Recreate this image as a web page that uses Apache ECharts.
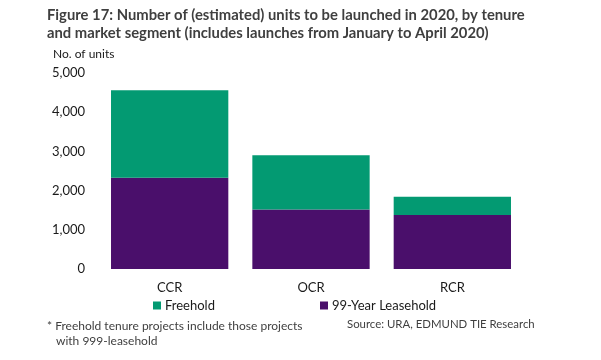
<!DOCTYPE html>
<html>
<head>
<meta charset="utf-8">
<script src="https://cdn.jsdelivr.net/npm/echarts@6/dist/echarts.min.js"></script>
<style>html,body{margin:0;padding:0;background:#fff}#c{width:601px;height:360px}</style>
</head>
<body>
<div id="c"></div>
<script>
const categories = ['CCR', 'OCR', 'RCR'];
const leasehold99 = [2330, 1520, 1380];
const freehold = [2230, 1380, 465];
const yTicks = [0, 1000, 2000, 3000, 4000, 5000];
const seriesNames = ['Freehold', '99-Year Leasehold'];

const FONT = 'Lato';
const chart = echarts.init(document.getElementById('c'), null, {renderer: 'canvas'});
const fmt = v => String(v).replace(/\B(?=(\d{3})+(?!\d))/g, ',');
chart.setOption({
  animation: false,
  textStyle: {fontFamily: FONT},
  grid: {left: 99, right: 78, top: 73, bottom: 91},
  legend: [
    {data: [seriesNames[0]], left: 153, top: 299, padding: 0, itemWidth: 8, itemHeight: 8, icon: 'rect', itemGap: 0,
     textStyle: {fontFamily: FONT, fontSize: 13, color: '#1a1a1a', padding: [0, 0, 0, -1]}},
    {data: [seriesNames[1]], left: 320, top: 299, padding: 0, itemWidth: 8, itemHeight: 8, icon: 'rect', itemGap: 0,
     textStyle: {fontFamily: FONT, fontSize: 13, color: '#1a1a1a', padding: [0, 0, 0, -1]}}
  ],
  xAxis: {
    type: 'category', data: categories,
    axisLine: {show: false}, axisTick: {show: false},
    axisLabel: {fontFamily: FONT, fontSize: 13, color: '#1a1a1a', margin: 12}
  },
  yAxis: {
    type: 'value', min: yTicks[0], max: yTicks[yTicks.length - 1], interval: yTicks[1] - yTicks[0],
    splitLine: {show: false}, axisLine: {show: false}, axisTick: {show: false},
    axisLabel: {fontFamily: FONT, fontSize: 13, color: '#1a1a1a', margin: 14, formatter: fmt,
                showMaxLabel: true, showMinLabel: true, hideOverlap: false}
  },
  graphic: [
    {type: 'text', left: 47, top: 6, style: {text: 'Figure 17: Number of (estimated) units to be launched in 2020, by tenure\nand market segment (includes launches from January to April 2020)', fontFamily: FONT, fontWeight: 'bold', fontSize: 14.8, lineHeight: 18, fill: '#3f3f3f'}},
    {type: 'text', left: 53, top: 48, style: {text: 'No. of units', fontFamily: FONT, fontSize: 12, fill: '#1a1a1a'}},
    {type: 'text', left: 47, top: 320, style: {text: '* Freehold tenure projects include those projects', fontFamily: FONT, fontSize: 12, fill: '#3f3f3f'}},
    {type: 'text', left: 56, top: 335, style: {text: 'with 999-leasehold', fontFamily: FONT, fontSize: 12, fill: '#3f3f3f'}},
    {type: 'text', left: 347, top: 319, style: {text: 'Source: URA, EDMUND TIE Research', fontFamily: FONT, fontSize: 11.4, fill: '#3f3f3f'}}
  ],
  series: [
    {name: seriesNames[1], type: 'bar', stack: 'a', data: leasehold99, barCategoryGap: '17%',
     itemStyle: {color: '#4a0f6b'}},
    {name: seriesNames[0], type: 'bar', stack: 'a', data: freehold, barCategoryGap: '17%',
     itemStyle: {color: '#039a72'}}
  ]
});
</script>
</body>
</html>
